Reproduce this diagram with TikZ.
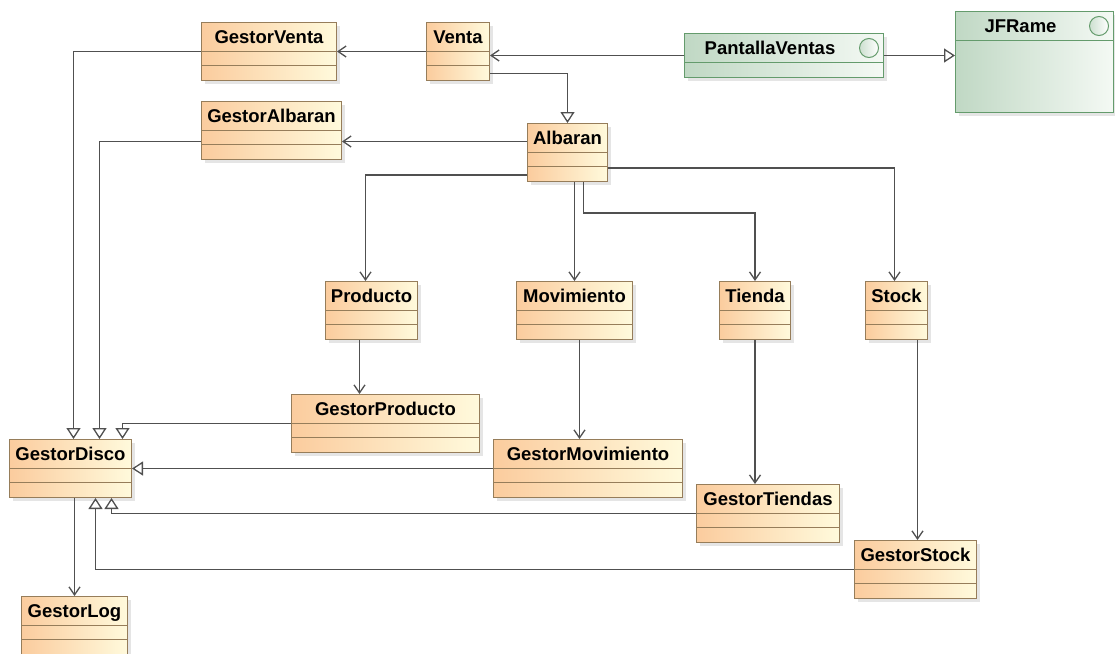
\documentclass[tikz,border=0pt]{standalone}
\usepackage{fontspec}
\setmainfont{Liberation Sans}
\definecolor{BoxOrange}{RGB}{251,204,158}
\definecolor{BoxCream}{RGB}{255,250,220}
\definecolor{BoxEdge}{RGB}{150,125,90}
\definecolor{IfcGreen}{RGB}{192,216,196}
\definecolor{IfcLight}{RGB}{244,249,244}
\definecolor{IfcEdge}{RGB}{100,155,108}
\definecolor{LineGray}{RGB}{80,80,80}
\usetikzlibrary{arrows.meta, positioning, calc, shadows}

\begin{document}
\begin{tikzpicture}[x=1pt, y=-1pt, font=\bfseries\fontsize{18.5}{21}\selectfont,
  cls/.style={draw=BoxEdge, line width=1pt, left color=BoxOrange, right color=BoxCream, minimum height=58pt, inner sep=0pt, anchor=north west,
    drop shadow={shadow xshift=3pt, shadow yshift=-3pt, fill=black!20}},
  ifc/.style={cls, draw=IfcEdge, left color=IfcGreen, right color=IfcLight},
  assoc/.style={draw=LineGray, line width=1.3pt, -{Straight Barb[length=8pt, width=11pt]}},
  gen/.style={draw=LineGray, line width=1.3pt, -{Triangle[open, length=11pt, width=14pt, fill=white]}}]
\useasboundingbox (0,0) rectangle (1115,653);
% clases
\foreach \n/\x/\y/\w in {GestorVenta/201/22/135, Venta/426/22/63, GestorAlbaran/201/101/140, Albaran/527/123/80,
  Producto/325/281/92, Movimiento/516/281/116, Tienda/719/281/71, Stock/865/281/62, GestorProducto/291/394/188,
  GestorDisco/9/439/122, GestorMovimiento/493/439/189, GestorTiendas/696/484/143, GestorStock/854/540/122, GestorLog/21/596/106} {
  \node[cls, minimum width=\w pt] (\n) at (\x,\y) {};
  \draw[BoxEdge] ([yshift=-29pt]\n.north west) -- ([yshift=-29pt]\n.north east) ([yshift=-43.5pt]\n.north west) -- ([yshift=-43.5pt]\n.north east);
  \node[anchor=base] (\n-t) at ([yshift=-21pt]\n.north) {\n};
}
% interfaces
\foreach \n/\x/\y/\w/\h in {PantallaVentas/684/33/199/44, JFRame/955/11/158/101} {
  \node[ifc, minimum width=\w pt, minimum height=\h pt] (\n) at (\x,\y) {};
  \draw[IfcEdge] ([yshift=-29pt]\n.north west) -- ([yshift=-29pt]\n.north east);
  \node[anchor=base] (\n-t) at ([xshift=-14pt, yshift=-21pt]\n.north) {\n};
  \node[circle, draw=IfcEdge, line width=1pt, left color=IfcGreen!80, right color=white, minimum size=19pt, inner sep=0pt] (\n-i) at ([xshift=-15pt, yshift=-15pt]\n.north east) {};
}
% relaciones
\draw[assoc] (Venta.west) -- (GestorVenta.east);
\draw[assoc] (PantallaVentas.west) -- (PantallaVentas.west -| Venta.east);
\draw[gen] ([yshift=-22pt]Venta.east) -| (Albaran.north);
\draw[gen] (PantallaVentas.east) -- (PantallaVentas.east -| JFRame.west);
\draw[assoc] ([yshift=-11pt]GestorAlbaran.east -| Albaran.west) -- ([yshift=-11pt]GestorAlbaran.east);
\draw[gen] (GestorVenta.west) -| ([xshift=3pt]GestorDisco.north);
\draw[gen] ([yshift=-11pt]GestorAlbaran.west) -| ([xshift=29pt]GestorDisco.north);
\draw[gen] (GestorProducto.west) -| ([xshift=52pt]GestorDisco.north);
\draw[gen] (GestorMovimiento.west) -- (GestorMovimiento.west -| GestorDisco.east);
\draw[gen] (GestorTiendas.west) -| ([xshift=41pt]GestorDisco.south);
\draw[gen] (GestorStock.west) -| ([xshift=25pt]GestorDisco.south);
\draw[assoc] (GestorLog.north |- GestorDisco.south) -- (GestorLog.north);
\draw[assoc] ([yshift=-22.5pt]Albaran.west) -| ([xshift=-6pt]Producto.north);
\draw[assoc] (Movimiento.north |- Albaran.south) -- (Movimiento.north);
\draw[assoc] ([xshift=16pt]Albaran.south) -- ++(0,31) -| (Tienda.north);
\draw[assoc] ([yshift=-15.5pt]Albaran.east) -| ([xshift=-2pt]Stock.north);
\draw[assoc] ([xshift=-12pt]Producto.south) -- ([xshift=-12pt]Producto.south |- GestorProducto.north);
\draw[assoc] ([xshift=5pt]Movimiento.south) -- ([xshift=5pt]Movimiento.south |- GestorMovimiento.north);
\draw[assoc] (Tienda.south) -- (Tienda.south |- GestorTiendas.north);
\draw[assoc] ([xshift=21pt]Stock.south) -- ([xshift=21pt]Stock.south |- GestorStock.north);
\end{tikzpicture}
\end{document}
